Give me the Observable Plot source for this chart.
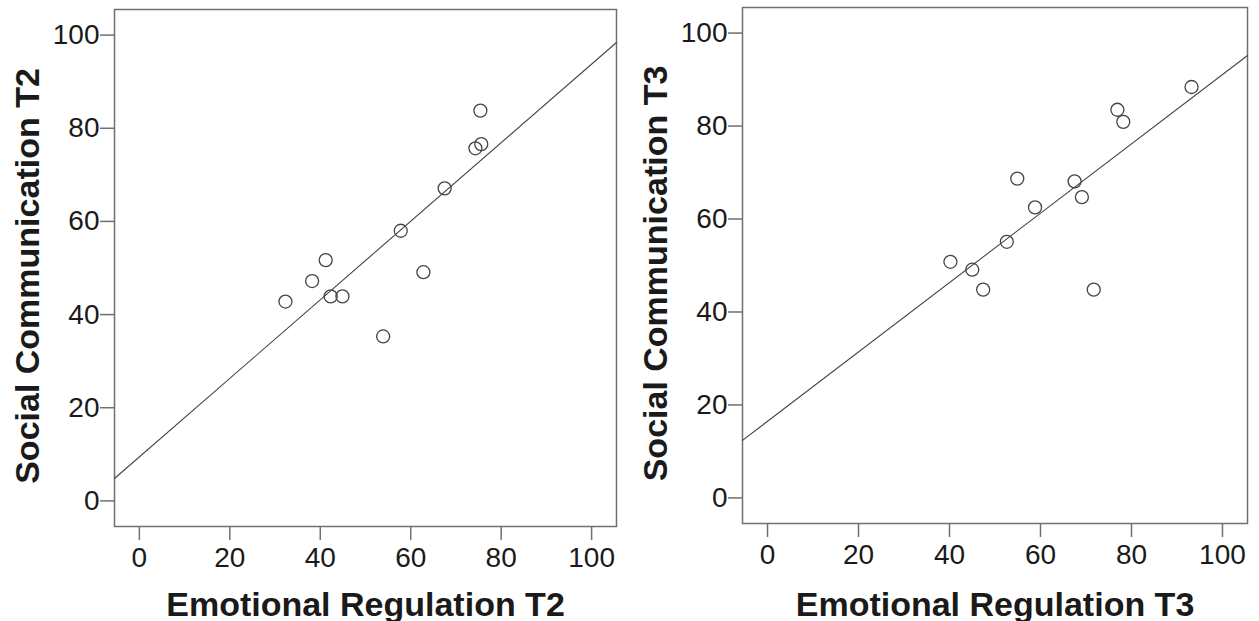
<!DOCTYPE html>
<html>
<head>
<meta charset="utf-8">
<script src="https://cdn.jsdelivr.net/npm/d3@7"></script>
<script src="https://cdn.jsdelivr.net/npm/@observablehq/plot@0.6"></script>
<style>
  html, body { margin: 0; padding: 0; background: #fff; overflow: hidden; }
  #wrap { display: flex; width: 1259px; height: 621px; }
</style>
</head>
<body>
<div id="wrap"></div>
<script>
// ---- data ----
const ticks = [0, 20, 40, 60, 80, 100];
const domain = [-5.5, 105.5];

const t2Labels = { x: "Emotional Regulation T2", y: "Social Communication T2" };
const t2Emotional = [32.3, 38.2, 41.2, 42.3, 44.9, 53.9, 57.8, 62.8, 67.5, 74.3, 75.6, 75.4];
const t2Social    = [42.8, 47.2, 51.7, 43.9, 43.9, 35.3, 58.0, 49.1, 67.1, 75.7, 76.6, 83.8];

const t3Labels = { x: "Emotional Regulation T3", y: "Social Communication T3" };
const t3Emotional = [40.2, 45.0, 47.4, 52.6, 54.9, 58.8, 67.5, 69.1, 71.7, 76.9, 78.2, 93.2];
const t3Social    = [50.8, 49.1, 44.8, 55.1, 68.7, 62.5, 68.1, 64.7, 44.8, 83.5, 80.9, 88.4];

const frameColor = "#707070";
const inkColor = "#444444";
const textColor = "#1a1a1a";

function fit(xs, ys) {
  const mx = d3.mean(xs), my = d3.mean(ys);
  const b = d3.sum(xs, (x, i) => (x - mx) * (ys[i] - my)) / d3.sum(xs, x => (x - mx) ** 2);
  return { a: my - b * mx, b };
}

function panel(xs, ys, labels, m) {
  const pts = xs.map((x, i) => ({ x, y: ys[i] }));
  const { a, b } = fit(xs, ys);
  const reg = domain.map(x => ({ x, y: a + b * x }));
  return Plot.plot({
    width: m.width,
    height: 621,
    marginLeft: m.left,
    marginRight: m.right,
    marginTop: m.top,
    marginBottom: m.bottom,
    style: { fontFamily: "'Liberation Sans', Arial, sans-serif", background: "white", overflow: "visible" },
    x: { domain, label: null },
    y: { domain, label: null },
    marks: [
      Plot.frame({ stroke: frameColor, strokeWidth: 1.5 }),
      Plot.axisX({ ticks, tickSize: 14, tickPadding: 7, fontSize: 28, stroke: frameColor, strokeWidth: 1.5, fill: textColor, label: null, tickFormat: d3.format("d") }),
      Plot.axisY({ ticks, tickSize: 14, tickPadding: 1, fontSize: 28, stroke: frameColor, strokeWidth: 1.5, fill: textColor, label: null, tickFormat: d3.format("d") }),
      Plot.line(reg, { x: "x", y: "y", stroke: inkColor, strokeWidth: 1.1 }),
      Plot.dot(pts, { x: "x", y: "y", r: 6.5, stroke: inkColor, strokeWidth: 1.3, fill: "none" }),
      Plot.text([labels.x], { frameAnchor: "bottom", textAnchor: "middle", lineAnchor: "bottom", dy: m.xLabelDy, fontSize: 34, fontWeight: "bold", fill: textColor }),
      Plot.text([labels.y], { frameAnchor: "left", textAnchor: "middle", lineAnchor: "bottom", rotate: -90, dx: m.yLabelDx, dy: 8, fontSize: 34, fontWeight: "bold", fill: textColor })
    ]
  });
}

const wrap = document.getElementById("wrap");
wrap.appendChild(panel(t2Emotional, t2Social, t2Labels, { width: 630, left: 114, right: 14, top: 9, bottom: 95, xLabelDy: 89, yLabelDx: -76 }));
wrap.appendChild(panel(t3Emotional, t3Social, t3Labels, { width: 629, left: 112, right: 12, top: 7, bottom: 98, xLabelDy: 92, yLabelDx: -76 }));
</script>
</body>
</html>
